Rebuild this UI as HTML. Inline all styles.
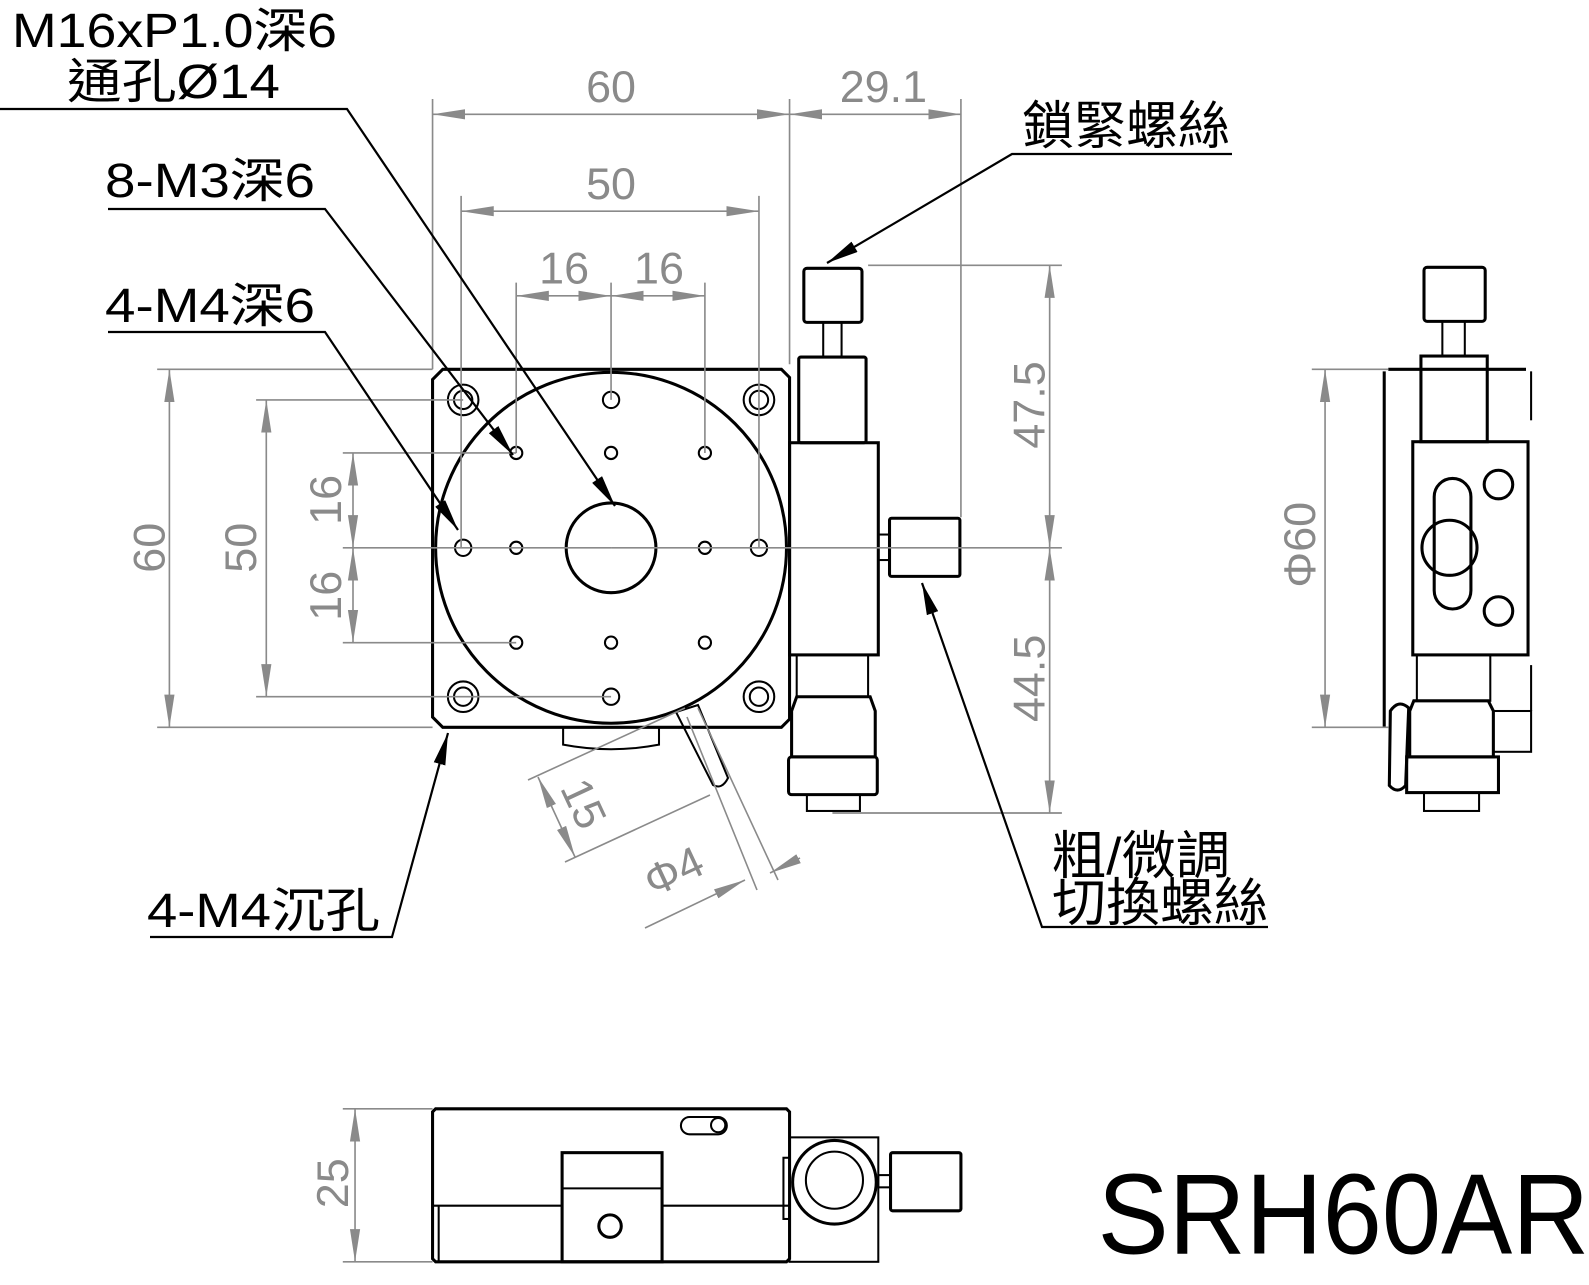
<!DOCTYPE html>
<html><head><meta charset="utf-8"><style>
html,body{margin:0;padding:0;background:#fff;}
svg{display:block;}
.o{fill:none;stroke:#000;stroke-width:3;}
.t{fill:none;stroke:#000;stroke-width:2;}
.d{fill:none;stroke:#8a8a8a;stroke-width:1.6;}
.dt{fill:#8a8a8a;font-family:"Liberation Sans",sans-serif;font-size:44px;}
.lb{fill:#000;font-family:"Liberation Sans","Noto Sans CJK TC",sans-serif;font-size:48px;}
</style></head><body>
<svg width="1589" height="1285" viewBox="0 0 1589 1285" xmlns="http://www.w3.org/2000/svg">
<defs>
<marker id="ga" markerUnits="userSpaceOnUse" markerWidth="32" markerHeight="12" refX="32" refY="6" orient="auto-start-reverse"><path d="M0,1 L32,6 L0,11 z" fill="#8a8a8a"/></marker>
<marker id="ba" markerUnits="userSpaceOnUse" markerWidth="32" markerHeight="12" refX="32" refY="6" orient="auto"><path d="M0,0 L32,6 L0,12 z" fill="#000"/></marker>
</defs>
<g transform="translate(-4,-3) scale(1.02)">
<!-- plate -->
<path class="o" d="M438,365 H770 L778,373 V708 L770,716 H438 L428,706 V375 Z"/>
<circle class="o" cx="603" cy="540" r="172" stroke-width="4"/>
<circle class="o" cx="603" cy="540" r="44"/>
<path class="t" d="M556,716 V733 Q603,742 650,733 V716"/>
<g class="t">
<circle cx="458" cy="395" r="15"/><circle cx="458" cy="395" r="9"/>
<circle cx="748" cy="395" r="15"/><circle cx="748" cy="395" r="9"/>
<circle cx="458" cy="686" r="15"/><circle cx="458" cy="686" r="9"/>
<circle cx="748" cy="686" r="15"/><circle cx="748" cy="686" r="9"/>
<circle cx="603" cy="395" r="8"/><circle cx="603" cy="686" r="8"/>
<circle cx="458" cy="540" r="8"/><circle cx="748" cy="540" r="8"/>
<circle cx="510" cy="447" r="6"/><circle cx="603" cy="447" r="6"/><circle cx="695" cy="447" r="6"/>
<circle cx="510" cy="540" r="6"/><circle cx="695" cy="540" r="6"/>
<circle cx="510" cy="633" r="6"/><circle cx="603" cy="633" r="6"/><circle cx="695" cy="633" r="6"/>
</g>
<!-- micrometer -->
<rect class="o" x="792" y="266" width="57" height="53" rx="3"/>
<rect class="t" x="811" y="319" width="18" height="34"/>
<rect class="o" x="787" y="353" width="66" height="84" rx="2"/>
<rect class="o" x="778" y="437" width="87" height="208"/>
<rect class="t" x="865" y="527" width="11" height="25"/>
<rect class="o" x="876" y="511" width="69" height="57" rx="2"/>
<rect class="t" x="785" y="645" width="70" height="41"/>
<path class="o" d="M785,686 L780,700 V745 H862 V700 L857,686 Z"/>
<rect class="o" x="777" y="745" width="87" height="37" rx="3"/>
<rect class="t" x="795" y="782" width="52" height="16"/>
<!-- side view -->
<path class="o" d="M1365,365 H1500"/>
<line class="o" x1="1361" y1="367" x2="1361" y2="716"/>
<line class="t" x1="1505" y1="367" x2="1505" y2="415"/>
<rect class="o" x="1400" y="265" width="60" height="53" rx="3"/>
<rect class="t" x="1418" y="318" width="22" height="34"/>
<rect class="o" x="1397" y="352" width="65" height="84"/>
<rect class="o" x="1389" y="436" width="113" height="209"/>
<circle class="o" cx="1473" cy="478" r="14"/>
<circle class="o" cx="1473" cy="602" r="14"/>
<rect class="o" x="1410" y="472" width="36" height="128" rx="18"/>
<circle class="o" cx="1425" cy="540" r="27" fill="#fff"/>
<rect class="t" x="1393" y="645" width="72" height="45"/>
<path class="o" d="M1390,690 L1386,700 V745 H1468 V700 L1463,690 Z"/>
<rect class="o" x="1383" y="745" width="90" height="35"/>
<rect class="t" x="1400" y="780" width="54" height="18"/>
<rect class="t" x="1468" y="700" width="37" height="40"/>
<line class="t" x1="1505" y1="655" x2="1505" y2="700"/>
<path class="o" d="M1367,700 Q1375,688 1385,697 L1382,773 Q1374,782 1366,773 Z"/>
<!-- bottom view -->
<path class="o" d="M431,1090 H775 L778,1093 V1237 L775,1240 H431 L428,1237 V1093 Z"/>
<line class="t" x1="434" y1="1185" x2="434" y2="1240"/>
<path class="t" d="M428,1185 H555 M653,1185 H778"/>
<rect class="o" x="555" y="1133" width="98" height="107"/>
<line class="t" x1="555" y1="1168" x2="653" y2="1168"/>
<circle class="o" cx="602" cy="1205" r="11"/>
<path class="t" d="M680,1098 H708 A8,8 0 0 1 708,1115 H680 A8,8 0 0 1 680,1098 Z"/>
<circle class="t" cx="708" cy="1106" r="7"/>
<rect class="t" x="778" y="1118" width="87" height="122"/>
<rect class="t" x="772" y="1138" width="6" height="60"/>
<circle class="o" cx="822" cy="1162" r="41" stroke-width="4"/>
<circle class="t" cx="822" cy="1160" r="28"/>
<rect class="t" x="865" y="1155" width="12" height="12"/>
<rect class="o" x="877" y="1133" width="69" height="57" rx="2"/>
<!-- dimension lines -->
<g class="d">
<path d="M428,100 V365 M778,100 V360 M946,100 V510 M456,195 V540 M748,195 V540 M510,280 V447 M603,280 V395 M695,280 V447"/>
<line x1="428" y1="115" x2="778" y2="115" marker-start="url(#ga)" marker-end="url(#ga)"/>
<line x1="778" y1="115" x2="946" y2="115" marker-start="url(#ga)" marker-end="url(#ga)"/>
<line x1="456" y1="210" x2="748" y2="210" marker-start="url(#ga)" marker-end="url(#ga)"/>
<line x1="510" y1="293" x2="603" y2="293" marker-start="url(#ga)" marker-end="url(#ga)"/>
<line x1="603" y1="293" x2="695" y2="293" marker-start="url(#ga)" marker-end="url(#ga)"/>
<path d="M158,365 H428 M158,716 H428 M255,395 H458 M255,686 H603 M340,447 H510 M340,540 H603 M340,633 H510"/>
<line x1="170" y1="365" x2="170" y2="716" marker-start="url(#ga)" marker-end="url(#ga)"/>
<line x1="265" y1="395" x2="265" y2="686" marker-start="url(#ga)" marker-end="url(#ga)"/>
<line x1="350" y1="447" x2="350" y2="540" marker-start="url(#ga)" marker-end="url(#ga)"/>
<line x1="350" y1="540" x2="350" y2="633" marker-start="url(#ga)" marker-end="url(#ga)"/>
<path d="M855,263 H1045 M603,540 H1045 M820,800 H1045"/>
<line x1="1033" y1="263" x2="1033" y2="540" marker-start="url(#ga)" marker-end="url(#ga)"/>
<line x1="1033" y1="540" x2="1033" y2="800" marker-start="url(#ga)" marker-end="url(#ga)"/>
<path d="M1290,365 H1365 M1290,716 H1365"/>
<line x1="1303" y1="365" x2="1303" y2="716" marker-start="url(#ga)" marker-end="url(#ga)"/>
<path d="M340,1090 H428 M340,1240 H428"/>
<line x1="352" y1="1090" x2="352" y2="1240" marker-start="url(#ga)" marker-end="url(#ga)"/>
</g>
<g class="dt" text-anchor="middle">
<text x="603" y="103">60</text>
<text x="870" y="103">29.1</text>
<text x="603" y="198">50</text>
<text x="557" y="281">16</text>
<text x="650" y="281">16</text>
<text transform="translate(165,540) rotate(-90)">60</text>
<text transform="translate(255,540) rotate(-90)">50</text>
<text transform="translate(338,493) rotate(-90)">16</text>
<text transform="translate(338,587) rotate(-90)">16</text>
<text transform="translate(1028,400) rotate(-90)">47.5</text>
<text transform="translate(1028,668) rotate(-90)">44.5</text>
<text transform="translate(1293,537) rotate(-90)">Φ60</text>
<text transform="translate(345,1163) rotate(-90)">25</text>
</g>
<text x="1080" y="1232" font-family="Liberation Sans,sans-serif" font-size="112" textLength="482" lengthAdjust="spacingAndGlyphs">SRH60AR</text>
</g>
<!-- lever & its dims (true coords) -->
<path class="t" d="M676,712 L698,705 L728,778 Q722,790 713,785 Z" stroke-width="2.5"/>
<g class="d">
<path d="M685,708 L528,780 M710,795 L565,862 M698,708 L778,880 M687,717 L757,890"/>
<line x1="538" y1="777" x2="575" y2="857" marker-start="url(#ga)" marker-end="url(#ga)"/>
<line x1="645" y1="928" x2="745" y2="880" marker-end="url(#ga)"/>
<line x1="800" y1="858" x2="770" y2="873" marker-end="url(#ga)"/>
</g>
<text class="dt" transform="translate(570,810) rotate(65)" text-anchor="middle">15</text>
<text class="dt" transform="translate(680,885) rotate(-25)" text-anchor="middle">Φ4</text>
<!-- labels -->
<g class="lb">
<text x="12" y="47" textLength="325" lengthAdjust="spacingAndGlyphs">M16xP1.0深6</text>
<text x="67" y="98" textLength="213" lengthAdjust="spacingAndGlyphs">通孔Ø14</text>
<text x="105" y="197" textLength="210" lengthAdjust="spacingAndGlyphs">8-M3深6</text>
<text x="105" y="322" textLength="210" lengthAdjust="spacingAndGlyphs">4-M4深6</text>
<text x="147" y="927" textLength="233" lengthAdjust="spacingAndGlyphs">4-M4沉孔</text>
<text x="1022" y="144" font-size="52" textLength="208" lengthAdjust="spacingAndGlyphs">鎖緊螺絲</text>
<text x="1052" y="874" font-size="52" textLength="178" lengthAdjust="spacingAndGlyphs">粗/微調</text>
<text x="1052" y="921" font-size="52" textLength="216" lengthAdjust="spacingAndGlyphs">切換螺絲</text>
</g>
<g fill="none" stroke="#000" stroke-width="2.2">
<polyline points="0,109 347,109 615,506" marker-end="url(#ba)"/>
<polyline points="108,209 325,209 513,455" marker-end="url(#ba)"/>
<polyline points="108,332 325,332 458,530" marker-end="url(#ba)"/>
<polyline points="150,937 392,937 448,733" marker-end="url(#ba)"/>
<polyline points="1232,154 1012,154 827,263" marker-end="url(#ba)"/>
<polyline points="1268,927 1042,927 922,583" marker-end="url(#ba)"/>
</g>
</svg>
</body></html>
